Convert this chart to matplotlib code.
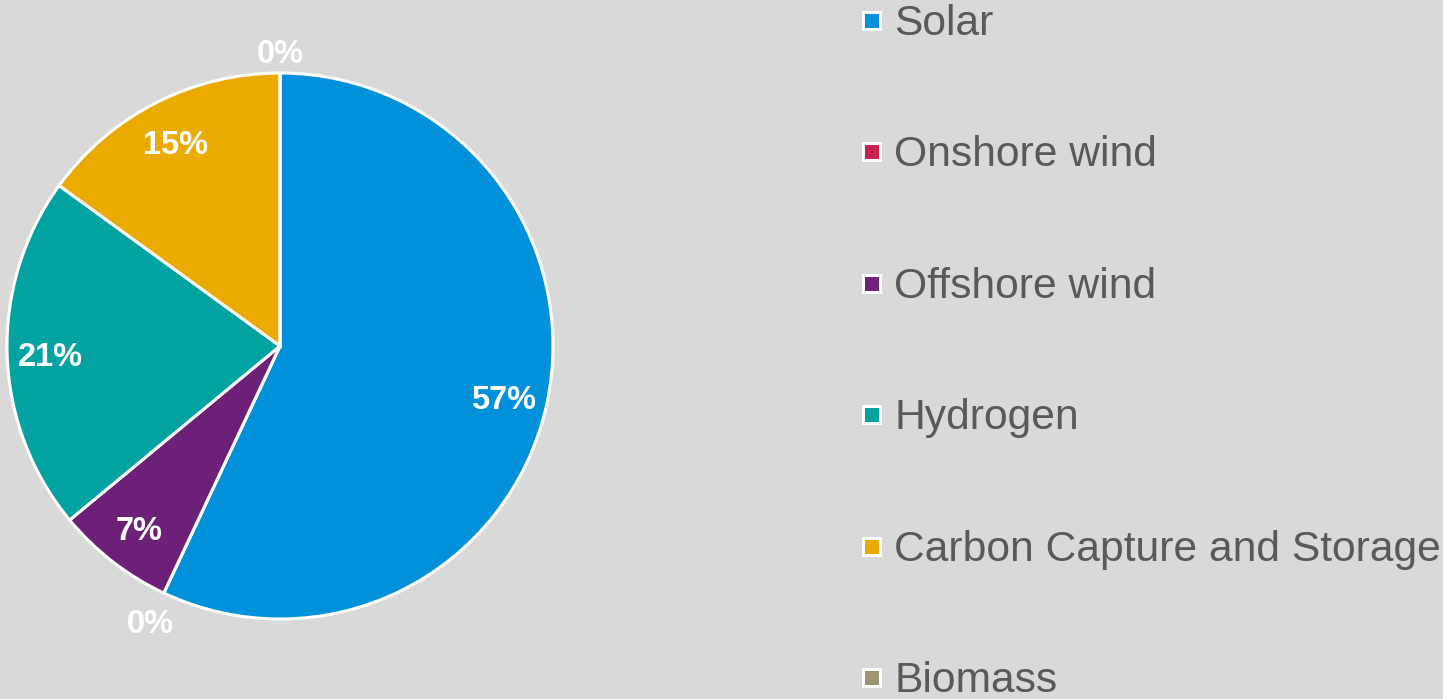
import matplotlib.pyplot as plt
from matplotlib.patches import Rectangle
from matplotlib.transforms import offset_copy
import numpy as np

plt.rcParams['font.family'] = ['Liberation Sans', 'DejaVu Sans']

labels = ['Solar', 'Onshore wind', 'Offshore wind', 'Hydrogen',
          'Carbon Capture and Storage', 'Biomass']
values = [57, 0, 7, 21, 15, 0]
colors = ['#0091DA', '#C6214F', '#6D2077', '#00A3A1', '#EAAA00', '#9D9574']

W, H = 1443, 699
bg = '#D9D9D9'

fig = plt.figure(figsize=(W / 100, H / 100), dpi=100, facecolor=bg)

# pie: centre (280, 346) px, radius 273 px
cx, cy, r = 280, 346, 273
m = 1.05
ax = fig.add_axes([(cx - r * m) / W, (H - cy - r * m) / H,
                   2 * r * m / W, 2 * r * m / H])
ax.set_facecolor(bg)
wedges, _ = ax.pie(values, colors=colors, startangle=90, counterclock=False,
                   radius=1, wedgeprops=dict(edgecolor='white', linewidth=2.2))
ax.set_xlim(-m, m)
ax.set_ylim(-m, m)
ax.set_aspect('equal')
ax.axis('off')

# nudge labels a few px down (va='center' counts the descent)
tr = offset_copy(ax.transData, fig=fig, x=0, y=-4, units='dots')
for w, v in zip(wedges, values):
    ang = np.deg2rad((w.theta1 + w.theta2) / 2)
    if v > 0:
        rr = 0.84
    else:
        # outside label: edge + gap + half the text box along the direction
        ext = 22 * abs(np.cos(ang)) + 11.5 * abs(np.sin(ang))
        rr = 1 + (11 + ext) / r
    ax.text(rr * np.cos(ang), rr * np.sin(ang), f'{v:.0f}%', color='white',
            fontsize=23.5, fontweight='bold', ha='center', va='center',
            transform=tr)

# legend
for i, (lab, col) in enumerate(zip(labels, colors)):
    base = 35 + i * 131.4
    yc = base - 14
    fig.add_artist(Rectangle((862 / W, (H - yc - 10) / H), 20 / W, 20 / H,
                             transform=fig.transFigure, facecolor='white',
                             edgecolor='none'))
    fig.add_artist(Rectangle((865 / W, (H - yc - 7) / H), 14 / W, 14 / H,
                             transform=fig.transFigure, facecolor=col,
                             edgecolor='none'))
    fig.text(894 / W, (H - base) / H, lab, color='#595959', fontsize=30.7,
             ha='left', va='baseline')

fig.savefig('out.png', dpi=100, facecolor=bg)
